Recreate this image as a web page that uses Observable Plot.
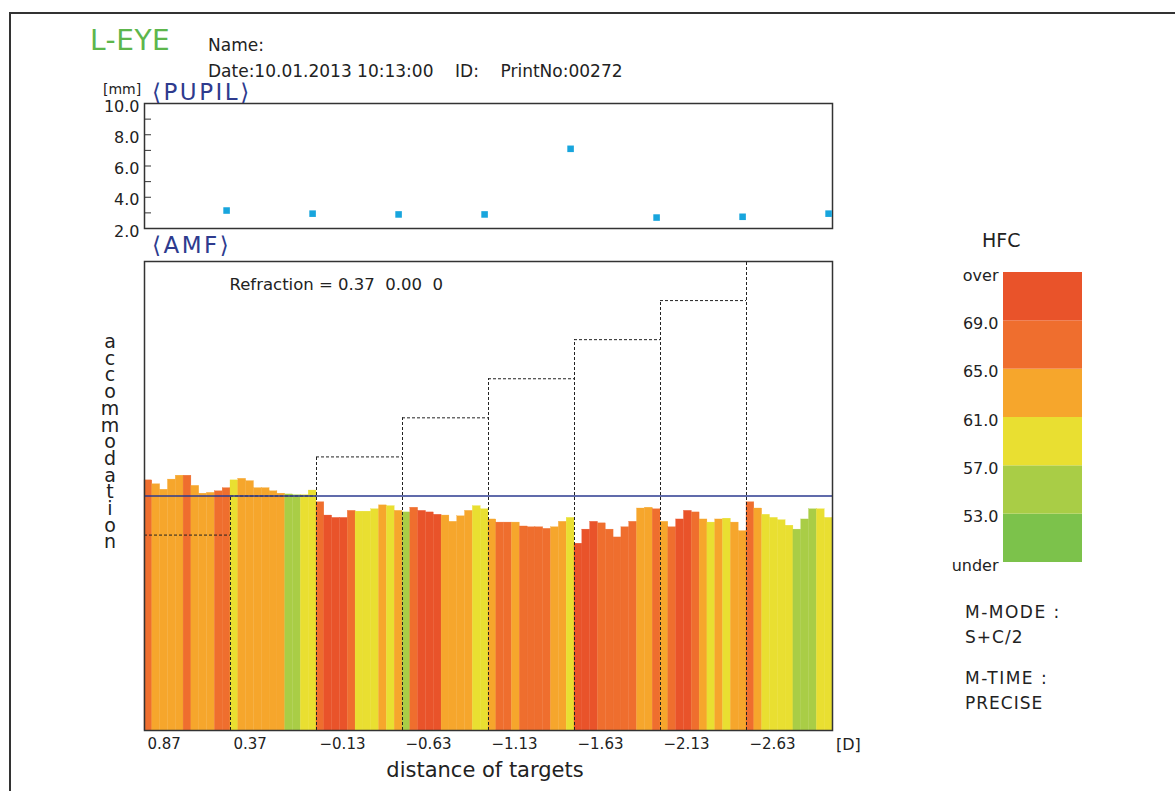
<!DOCTYPE html>
<html><head><meta charset="utf-8">
<script src="https://cdn.jsdelivr.net/npm/d3@7"></script>
<script src="https://cdn.jsdelivr.net/npm/@observablehq/plot@0.6"></script>
<style>
html,body{margin:0;padding:0;background:#fff;}
#page{position:relative;width:1175px;height:791px;overflow:hidden;font-family:"DejaVu Sans",sans-serif;color:#222;}
.t{position:absolute;line-height:1;white-space:pre;transform:translateY(-50%);}
.abs{position:absolute;}
.abs svg{overflow:visible;}
#border{position:absolute;left:9px;top:12px;right:-10px;bottom:-10px;border-left:2px solid #333;border-top:2px solid #333;}
</style></head><body><div id="page"><div id="border"></div></div>
<script>
// ---------- data ----------
const targetLabels = ["0.87", "0.37", "\u22120.13", "\u22120.63", "\u22121.13", "\u22121.63", "\u22122.13", "\u22122.63"];
const targetValues = [0.87, 0.37, -0.13, -0.63, -1.13, -1.63, -2.13, -2.63];
const refraction = [0.37, 0.00, 0];
const barsPerTarget = 11;
const amfRange = [-3, 3];

// accommodation (D, relative to refraction), 11 measurements per target
const accommodation = [
  0.20, 0.15, 0.08, 0.21, 0.26, 0.26, 0.13, 0.03, 0.04, 0.06, 0.10,
  0.20, 0.22, 0.19, 0.10, 0.10, 0.06, 0.03, 0.02, 0.01, 0.01, 0.07,
  -0.08, -0.25, -0.28, -0.28, -0.19, -0.20, -0.20, -0.17, -0.12, -0.13, -0.19,
  -0.21, -0.15, -0.19, -0.21, -0.24, -0.25, -0.33, -0.26, -0.19, -0.13, -0.17,
  -0.30, -0.34, -0.34, -0.34, -0.39, -0.40, -0.40, -0.42, -0.40, -0.33, -0.28,
  -0.61, -0.43, -0.33, -0.35, -0.43, -0.53, -0.40, -0.33, -0.16, -0.15, -0.17,
  -0.33, -0.40, -0.30, -0.19, -0.21, -0.30, -0.34, -0.30, -0.29, -0.34, -0.45,
  -0.08, -0.16, -0.24, -0.28, -0.31, -0.38, -0.43, -0.30, -0.17, -0.17, -0.28
];
// HFC per measurement
const hfc = [
  66.4, 63.8, 63.1, 62.7, 64.2, 67.0, 63.5, 62.9, 63.6, 66.8, 65.9,
  60.2, 62.4, 63.0, 62.6, 61.8, 62.2, 61.5, 56.3, 55.8, 59.1, 60.4,
  66.1, 70.4, 71.2, 69.8, 66.9, 59.7, 58.8, 60.3, 61.9, 60.6, 61.4,
  56.6, 67.3, 69.9, 70.6, 69.5, 63.7, 62.9, 63.3, 61.7, 59.5, 60.1,
  62.8, 66.3, 67.4, 63.9, 65.8, 66.6, 67.7, 66.0, 64.1, 63.2, 60.7,
  71.5, 70.8, 69.4, 68.2, 66.5, 67.1, 66.3, 65.4, 63.6, 62.8, 66.9,
  63.4, 66.2, 69.6, 70.3, 67.8, 62.5, 60.2, 62.1, 59.8, 61.6, 62.9,
  67.5, 64.0, 60.5, 59.4, 58.7, 59.9, 56.1, 55.4, 56.8, 58.3, 60.0
];
// pupil diameter (mm), one per target
const pupil = [3.15, 2.95, 2.9, 2.9, 7.1, 2.7, 2.75, 2.95];
const pupilRange = [2, 10];
const pupilLabelTicks = [2, 4, 6, 8, 10];
const pupilMarkTicks = [3, 4, 5, 6, 7, 8, 9];

const hfcThresholds = [53, 57, 61, 65, 69];
const hfcColors = ["#7cc24b", "#a9cd46", "#e9df31", "#f6a62c", "#ef6e2e", "#e9532a"];
const hfcLabels = ["under", "53.0", "57.0", "61.0", "65.0", "69.0", "over"];

const eyeLabel = "L-EYE";
const nameLine = "Name:";
const dateLine = "Date:10.01.2013 10:13:00    ID:    PrintNo:00272";
const modeLines = ["M-MODE :", "S+C/2", "M-TIME :", "PRECISE"];
const yTitle = "accommodation";

// ---------- derived tables ----------
const nBars = accommodation.length;
const bars = accommodation.map((a, i) => ({i, acc: a, hfc: hfc[i]}));
const steps = targetValues.map((t, k) => ({
  x1: k * barsPerTarget, x2: (k + 1) * barsPerTarget, level: refraction[0] - t
}));
const pupilData = pupil.map((p, k) => ({x: (k + 1) * barsPerTarget - 0.5, p}));
const legendCells = hfcColors.map((c, i) => ({i, c}));

const page = document.getElementById("page");
function place(node, left, top) {
  const d = document.createElement("div");
  d.className = "abs"; d.style.left = left + "px"; d.style.top = top + "px";
  d.appendChild(node); page.appendChild(d);
}
function text(str, left, cy, css) {
  const d = document.createElement("div");
  d.className = "t"; d.textContent = str;
  d.style.left = left + "px"; d.style.top = cy + "px";
  Object.assign(d.style, css || {});
  page.appendChild(d);
  return d;
}

const baseStyle = {fontFamily: "DejaVu Sans, sans-serif", color: "#222", background: "transparent"};

// ---------- PUPIL ----------
const pupilPlot = Plot.plot({
  width: 850, height: 160, marginLeft: 144, marginRight: 18, marginTop: 23, marginBottom: 12,
  style: {...baseStyle, fontSize: "16px"},
  x: {domain: [0, nBars], axis: null},
  y: {domain: pupilRange},
  marks: [
    Plot.axisY({ticks: pupilLabelTicks, tickSize: 0, tickPadding: 5, dy: 3, tickFormat: d3.format(".1f"), label: null, fill: "#222"}),
    Plot.axisY({ticks: pupilMarkTicks, tickSize: -7, tickFormat: () => "", label: null, stroke: "#333"}),
    Plot.frame({stroke: "#333", strokeWidth: 1.5}),
    Plot.dot(pupilData, {x: "x", y: "p", symbol: "square", r: 3.7, fill: "#18a5dd"})
  ]
});
place(pupilPlot, 0, 80);

// ---------- AMF ----------
const amfPlot = Plot.plot({
  width: 850, height: 510, marginLeft: 144, marginRight: 18, marginTop: 11, marginBottom: 30,
  style: {...baseStyle, fontSize: "15px"},
  x: {domain: [0, nBars]},
  y: {domain: amfRange, axis: null},
  color: {type: "threshold", domain: hfcThresholds, range: hfcColors},
  marks: [
    Plot.rectY(bars, {x1: "i", x2: d => d.i + 1, y1: amfRange[0], y2: "acc", fill: "hfc", inset: 0, stroke: "hfc", strokeWidth: 0.3}),
    Plot.ruleY(steps, {x1: "x1", x2: "x2", y: "level", stroke: "#222", strokeDasharray: "3,2"}),
    Plot.ruleX(steps.slice(1), {x: "x1", y1: amfRange[0], y2: "level", stroke: "#222", strokeDasharray: "3,2"}),
    Plot.ruleY([0], {stroke: "#2b3a8f", strokeWidth: 1.3}),
    Plot.frame({stroke: "#333", strokeWidth: 1.5}),
    Plot.axisX({ticks: steps.map(s => s.x1), tickSize: 0, tickPadding: 8, textAnchor: "start", dx: 3,
      tickFormat: d => targetLabels[d / barsPerTarget], label: null, fill: "#222"}),
    Plot.text([`Refraction = ${refraction[0].toFixed(2)}  ${refraction[1].toFixed(2)}  ${refraction[2]}`],
      {frameAnchor: "top-left", dx: 85, dy: 17, textAnchor: "start", fontSize: 16.5, fill: "#222"})
  ]
});
place(amfPlot, 0, 250);

// ---------- HFC legend ----------
const legendPlot = Plot.plot({
  width: 150, height: 310, marginLeft: 63, marginRight: 8, marginTop: 10, marginBottom: 10,
  style: {...baseStyle, fontSize: "16px"},
  x: {axis: null},
  y: {domain: [0, hfcColors.length], axis: null},
  marks: [
    Plot.rectY(legendCells, {y1: "i", y2: d => d.i + 1, fill: "c", inset: 0}),
    Plot.text(hfcLabels, {y: (d, i) => i, text: d => d, frameAnchor: "left", textAnchor: "end", dx: -5, dy: 3, fill: "#222"})
  ]
});
place(legendPlot, 940, 262);

// ---------- page texts ----------
text(eyeLabel, 90, 41, {fontSize: "28px", color: "#5db64c", letterSpacing: "0.5px"});
text(nameLine, 208, 45, {fontSize: "17px"});
text(dateLine, 208, 71, {fontSize: "17px"});
text("[mm]", 103, 89, {fontSize: "14px"});
text("\u27E8PUPIL\u27E9", 152, 92, {fontSize: "23px", color: "#2e3b8e", letterSpacing: "2.5px"});
text("\u27E8AMF\u27E9", 152, 245, {fontSize: "23px", color: "#2e3b8e", letterSpacing: "2.5px"});
text(yTitle.split("").join("\n"), 100, 333, {fontSize: "19px", lineHeight: "16.7px", width: "20px", textAlign: "center", transform: "none"});
text("[D]", 836, 745, {fontSize: "16px"});
text("distance of targets", 485, 770, {fontSize: "21px", transform: "translate(-50%,-50%)"});
text("HFC", 982, 240, {fontSize: "19px"});
text(modeLines[0], 965, 612, {fontSize: "17px", letterSpacing: "1.5px"});
text(modeLines[1], 965, 637, {fontSize: "17px", letterSpacing: "1px"});
text(modeLines[2], 965, 678, {fontSize: "17px", letterSpacing: "1.5px"});
text(modeLines[3], 965, 703, {fontSize: "17px", letterSpacing: "1px"});
</script>
</body></html>
